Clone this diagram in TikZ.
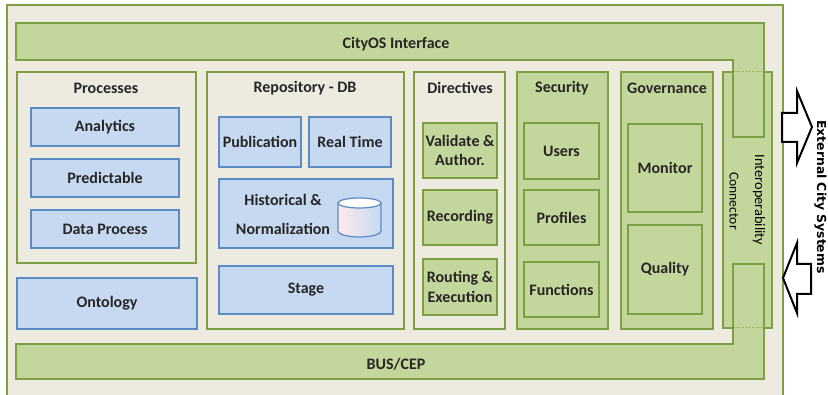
\documentclass[tikz,border=0pt]{standalone}
\usepackage{fontspec}
\usepackage{xcolor}
\setmainfont{Carlito}
\newfontfamily\extfont{DejaVu Sans}

\definecolor{beige}{HTML}{EDEBE0}
\definecolor{leaf}{HTML}{C3D69B}
\definecolor{leafline}{HTML}{7F9F45}
\definecolor{sky}{HTML}{C6D9F1}
\definecolor{skyline}{HTML}{5B8BC5}

\tikzset{
  panel/.style={draw=leafline, fill=beige, line width=1.5pt, inner sep=0pt},
  greenpanel/.style={panel, fill=leaf},
  bluebox/.style={draw=skyline, fill=sky, line width=1.5pt, inner sep=0pt, font=\fontsize{16}{19.5}\selectfont\bfseries, align=center, text=black!85},
  greenbox/.style={bluebox, draw=leafline, fill=leaf},
  bar/.style={draw=leafline, fill=leaf, line width=2.5pt},
  title/.style={inner sep=0pt, font=\fontsize{16}{19.5}\selectfont\bfseries, text=black!85},
  sidetext/.style={inner sep=0pt, rotate=-90, font=\fontsize{14.4}{16}\selectfont, text=black},
  bigarrow/.style={draw=black, fill=white, line width=2pt, line join=miter}
}

\begin{document}
\begin{tikzpicture}[x=1pt, y=-1pt]
\useasboundingbox (0,0) rectangle (828,395);

% frame
\fill[beige] (7,5) rectangle (783,395);
\draw[leafline, line width=1.5pt] (7,395) -- (7,5) -- (783,5) -- (783,395);

% left panels
\node[panel, minimum width=179pt, minimum height=191pt] (processes) at (106.5,167.5) {};
\node[panel, minimum width=197pt, minimum height=257pt] (repository) at (305.5,200.5) {};
\node[panel, minimum width=91pt, minimum height=257pt] (directives) at (459.5,200.5) {};
\node[greenpanel, minimum width=91pt, minimum height=257pt] (security) at (562.5,200.5) {};
\node[greenpanel, minimum width=92pt, minimum height=257pt] (governance) at (667,200.5) {};
\node[greenpanel, minimum width=49pt, minimum height=256pt] (connector) at (747.5,200) {};

% bars over the connector
\draw[bar] (16,23) -- (764,23) -- (764,137) -- (733,137) -- (733,60) -- (16,60) -- cycle;
\draw[bar] (16,344) -- (733,344) -- (733,264) -- (764,264) -- (764,379) -- (16,379) -- cycle;
\draw[leafline, line width=1pt, dotted] (734,72) -- (763,72);
\draw[leafline, line width=1pt, dotted] (734,328) -- (763,328);
\node[title] (cityos) at (396,44) {CityOS Interface};
\node[title] (bus) at (396,364) {BUS/CEP};

% titles
\node[title] (proctitle) at (106,88) {Processes};
\node[title] (repotitle) at (305,88) {Repository - DB};
\node[title] (dirtitle) at (460,88) {Directives};
\node[title] (sectitle) at (562,88) {Security};
\node[title] (govtitle) at (667,88) {Governance};

% blue boxes
\node[bluebox, minimum width=148pt, minimum height=38pt] (analytics) at (105,127) {Analytics};
\node[bluebox, minimum width=148pt, minimum height=38pt] (predictable) at (105,178) {Predictable};
\node[bluebox, minimum width=148pt, minimum height=38pt] (dataproc) at (105,229) {Data Process};
\node[bluebox, minimum width=180pt, minimum height=51pt] (ontology) at (107,303.5) {Ontology};
\node[bluebox, minimum width=82pt, minimum height=50pt] (publication) at (260,142) {Publication};
\node[bluebox, minimum width=82pt, minimum height=50pt] (realtime) at (350,142) {Real Time};
\node[bluebox, minimum width=174pt, minimum height=69pt] (historical) at (306,213.5) {};
\node[bluebox, minimum width=174pt, minimum height=48pt] (stage) at (306,290) {Stage};
\node[title] (histone) at (283,200) {Historical \&};
\node[title] (histtwo) at (283,229) {Normalization};

% database
\draw[skyline, line width=1.2pt, left color=red!8, middle color=white, right color=sky]
  (338,203) -- (338,231) arc[start angle=180, end angle=360, x radius=21.5pt, y radius=6pt] -- (381,203) -- cycle;
\draw[skyline, line width=1.2pt, fill=white] (359.5,203) ellipse (21.5pt and 5pt);

% green boxes
\node[greenbox, minimum width=74pt, minimum height=55pt] (validate) at (460,150.5) {Validate \&\\Author.};
\node[greenbox, minimum width=74pt, minimum height=55pt] (recording) at (460,217.5) {Recording};
\node[greenbox, minimum width=74pt, minimum height=56pt] (routing) at (460,287) {Routing \&\\Execution};
\node[greenbox, minimum width=75pt, minimum height=56pt] (users) at (561.5,151) {Users};
\node[greenbox, minimum width=75pt, minimum height=55pt] (profiles) at (561.5,217.5) {Profiles};
\node[greenbox, minimum width=75pt, minimum height=55pt] (functions) at (561.5,289.5) {Functions};
\node[greenbox, minimum width=74pt, minimum height=88pt] (monitor) at (665,168) {Monitor};
\node[greenbox, minimum width=74pt, minimum height=89pt] (quality) at (665,269.5) {Quality};

% side texts
\node[sidetext] (interop) at (759,200) {Interoperability};
\node[sidetext, font=\fontsize{13.6}{16}\selectfont] (connect) at (734,201) {Connector};
\node[sidetext, font=\fontsize{12.4}{15}\selectfont\bfseries\extfont, text=black] (external) at (820.5,197) {External City Systems};

% arrows
\draw[bigarrow] (782,113) -- (797,113) -- (797,91) -- (812,127) -- (797,163) -- (797,142) -- (782,142) -- cycle;
\draw[bigarrow] (811,264) -- (797,264) -- (797,243) -- (783,278) -- (797,313) -- (797,294) -- (811,294) -- cycle;

\end{tikzpicture}
\end{document}
